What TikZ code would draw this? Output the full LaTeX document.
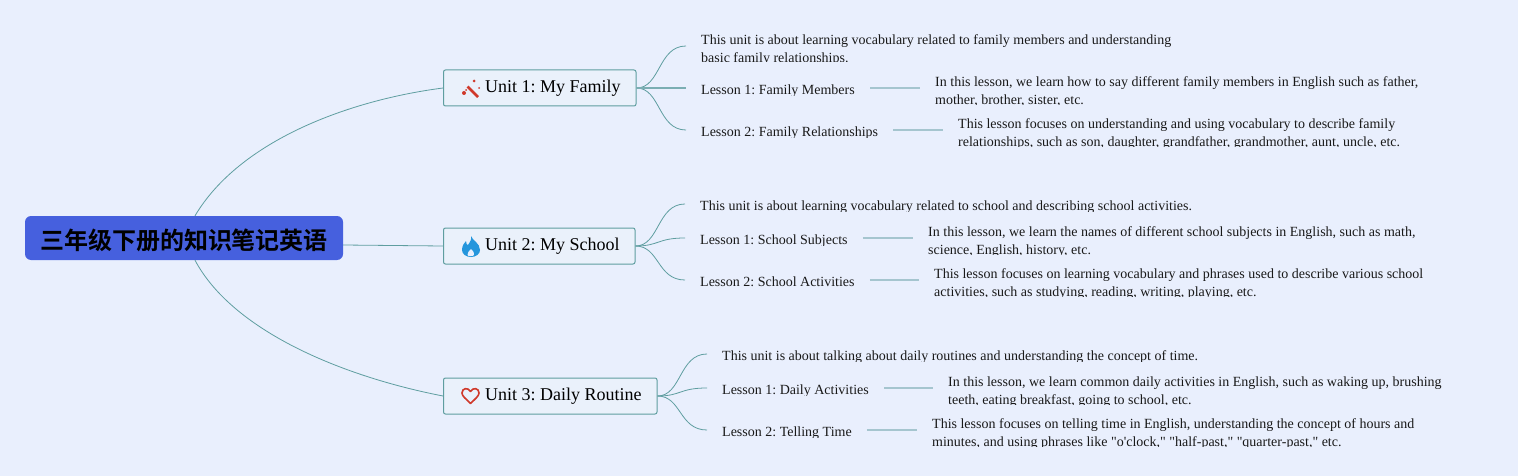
\documentclass[tikz,border=0pt]{standalone}
\usepackage{fontspec}
\setmainfont{Liberation Serif}[Ligatures=TeXOff]
\newfontfamily\cjkfont{Noto Sans CJK SC}[BoldFont={* Bold}]
\definecolor{pagebg}{HTML}{E9EFFD}
\definecolor{rootblue}{HTML}{4660DE}
\definecolor{branchteal}{HTML}{5F9EA0}
\definecolor{linkgrey}{HTML}{A5C5CF}
\definecolor{unitfill}{HTML}{EAF1FB}
\definecolor{iconred}{HTML}{D0392B}
\definecolor{iconblue}{HTML}{2596DC}
\tikzset{
  rootbox/.style={fill=rootblue,rounded corners=6pt,minimum width=318pt,minimum height=44pt,inner sep=0pt,font=\cjkfont\bfseries\fontsize{24}{28}\selectfont},
  unitbox/.style={draw=branchteal,fill=unitfill,line width=1pt,rounded corners=2pt,minimum height=36pt,inner sep=0pt,anchor=west},
  unitlabel/.style={anchor=base west,inner sep=0pt,font=\frenchspacing\fontsize{18}{22}\selectfont},
  notetext/.style={anchor=west,inner xsep=15pt,inner ysep=0pt,align=left,text=black!90,font=\frenchspacing\fontsize{14}{18}\selectfont},
  oneline/.style={notetext,text height=12pt,text depth=0pt},
  onelinelow/.style={notetext,text height=14pt,text depth=0pt},
  branch/.style={draw=branchteal,line width=0.8pt},
  link/.style={draw=linkgrey,line width=1.4pt}
}
% text with its lower edge cut off
\newcommand{\cliptext}[6][]{%
  \begin{scope}
  \clip (#3,#4-30) rectangle (#3+640,#5);
  \node[#1] (#2) at (#3,#4) {#6};
  \end{scope}}
\begin{document}
\begin{tikzpicture}[x=1pt,y=-1pt]
\useasboundingbox (0,0) rectangle (1518,476);
\fill[pagebg] (0,0) rectangle (1518,476);

\node[rootbox] (root) at (184,238) {\raisebox{0pt}[22pt][0pt]{三年级下册的知识笔记英语}};

\node[unitbox,minimum width=192.5pt] (unitA) at (443,88) {};
\node[unitbox,minimum width=191.5pt] (unitB) at (443,246) {};
\node[unitbox,minimum width=213.5pt] (unitC) at (443,396) {};
\node[unitlabel] (unitAlabel) at (485,92.5) {Unit 1: My Family};
\node[unitlabel] (unitBlabel) at (485,250) {Unit 2: My School};
\node[unitlabel] (unitClabel) at (485,400) {Unit 3: Daily Routine};

% root to units
\draw[branch] ([xshift=11pt]root.north) .. controls (240,140) and (350,100) .. (unitA.west);
\draw[branch] ([yshift=-7pt]root.east) -- (unitB.west);
\draw[branch] ([xshift=11pt]root.south) .. controls (232,330) and (340,376) .. (unitC.west);

% unit 1
\cliptext[notetext]{infoA}{686}{50}{62}{This unit is about learning vocabulary related to family members and understanding\\basic family relationships.}
\cliptext[onelinelow]{lessonAa}{686}{88}{96}{Lesson 1: Family Members}
\cliptext[onelinelow]{lessonAb}{686}{130}{138}{Lesson 2: Family Relationships}
\cliptext[notetext]{detailAa}{920}{92}{104.5}{In this lesson, we learn how to say different family members in English such as father,\\mother, brother, sister, etc.}
\cliptext[notetext]{detailAb}{943}{134}{146.5}{This lesson focuses on understanding and using vocabulary to describe family\\relationships, such as son, daughter, grandfather, grandmother, aunt, uncle, etc.}

% unit 2
\cliptext[oneline]{infoB}{685}{204}{211}{This unit is about learning vocabulary related to school and describing school activities.}
\cliptext[oneline]{lessonBa}{685}{238}{245.5}{Lesson 1: School Subjects}
\cliptext[oneline]{lessonBb}{685}{280}{287.5}{Lesson 2: School Activities}
\cliptext[notetext]{detailBa}{913}{242}{254.5}{In this lesson, we learn the names of different school subjects in English, such as math,\\science, English, history, etc.}
\cliptext[notetext]{detailBb}{919}{284}{296.5}{This lesson focuses on learning vocabulary and phrases used to describe various school\\activities, such as studying, reading, writing, playing, etc.}

% unit 3
\cliptext[oneline]{infoC}{707}{354}{361}{This unit is about talking about daily routines and understanding the concept of time.}
\cliptext[oneline]{lessonCa}{707}{388}{395.5}{Lesson 1: Daily Activities}
\cliptext[oneline]{lessonCb}{707}{430}{437.5}{Lesson 2: Telling Time}
\cliptext[notetext]{detailCa}{933}{392}{404.5}{In this lesson, we learn common daily activities in English, such as waking up, brushing\\teeth, eating breakfast, going to school, etc.}
\cliptext[notetext]{detailCb}{917}{434}{446.5}{This lesson focuses on telling time in English, understanding the concept of hours and\\minutes, and using phrases like "o'clock," "half-past," "quarter-past," etc.}

% units to their notes
\foreach \u/\n in {unitB/infoB,unitB/lessonBa,unitB/lessonBb,unitC/infoC,unitC/lessonCa,unitC/lessonCb,unitA/lessonAb}{
  \draw[branch] (\u.east) .. controls ([xshift=24pt]\u.east) and ([xshift=-28pt]\n.west) .. (\n.west);
}
\draw[branch] (unitA.east) .. controls ([xshift=24pt]unitA.east) and ([shift={(-28pt,4pt)}]infoA.west) .. ([yshift=4pt]infoA.west);
\draw[link,draw=branchteal!60!linkgrey] (unitA.east) -- (lessonAa.west);

\foreach \l/\d in {lessonAa/detailAa,lessonAb/detailAb,lessonBa/detailBa,lessonBb/detailBb,lessonCa/detailCa,lessonCb/detailCb}{
  \draw[link] (\l.east) -- (\d.west |- \l.east);
}

% icons
\begin{scope}[shift={(471,88)},iconred]
\draw[line width=2.6pt] (-3.5,-1.5) -- (7,9);
\fill (3,-7) circle (1.5pt) (-7,5) circle (2pt) (8,0) circle (1pt) (-5,2) circle (1pt);
\end{scope}
\fill[iconblue] (471,236) .. controls (472,240) and (480,243) .. (480,250)
  .. controls (480,254) and (476,257) .. (471,257) .. controls (466,257) and (462,254) .. (462,250)
  .. controls (462,246) and (464,243) .. (466,241) .. controls (466,244) and (467,245) .. (468,245)
  .. controls (470,242) and (472,239) .. (471,236) -- cycle;
\fill[pagebg] (471,249) .. controls (473,251) and (475,253) .. (474,255) .. controls (473,256.5) and (468,256.5) .. (467.5,255) .. controls (467,253) and (469,251) .. (471,249) -- cycle;
\draw[iconred,line width=1.6pt,line join=round] (470.5,403.5) .. controls (466,399) and (462,396) .. (462,393)
  .. controls (462,388) and (468,387) .. (470.5,391.5) .. controls (473,387) and (479,388) .. (479,393)
  .. controls (479,396) and (475,399) .. (470.5,403.5) -- cycle;
\end{tikzpicture}
\end{document}
